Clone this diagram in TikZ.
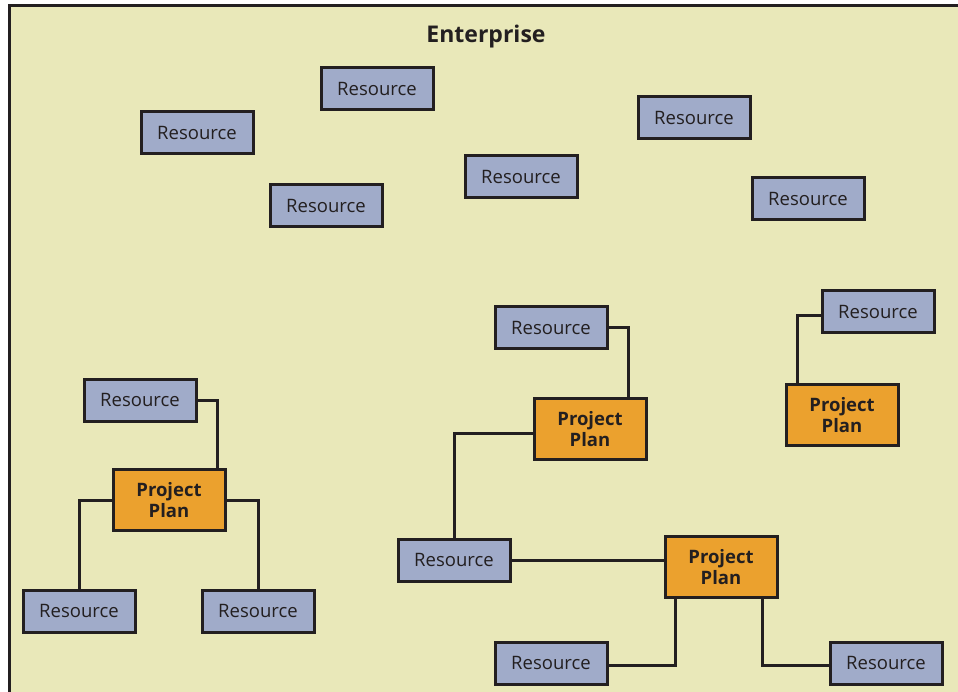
\documentclass[tikz,border=0pt]{standalone}
\usepackage{fontspec}
\setmainfont{Open Sans}
\begin{document}
\definecolor{bgcream}{RGB}{233,232,185}
\definecolor{resblue}{RGB}{160,171,201}
\definecolor{planorange}{RGB}{235,161,46}
\definecolor{inkdark}{RGB}{35,31,32}
\begin{tikzpicture}[x=1pt,y=-1pt,
  resource/.style={rectangle, draw=inkdark, line width=3pt, fill=resblue,
    minimum width=112pt, minimum height=42pt, inner sep=0pt,
    text=inkdark, font=\fontsize{18.5}{20}\selectfont},
  plan/.style={rectangle, draw=inkdark, line width=3pt, fill=planorange,
    minimum width=112pt, minimum height=61pt, inner sep=0pt, align=center,
    text=inkdark, font=\fontsize{18.5}{20.5}\selectfont\bfseries},
  link/.style={draw=inkdark, line width=3pt}]
\useasboundingbox (0,0) rectangle (958,692);
\clip (0,0) rectangle (958,692);
% enterprise frame
\draw[fill=bgcream, draw=inkdark, line width=2.8pt] (9.5,5.5) rectangle (980,720);
\node[text=inkdark, font=\fontsize{23}{25}\selectfont\bfseries] (title) at (486,37) {Enterprise};

% free resources
\node[resource] (t1) at (377,89) {Resource};
\node[resource] (t2) at (197,133) {Resource};
\node[resource] (t3) at (326,206) {Resource};
\node[resource] (t4) at (521,177) {Resource};
\node[resource] (t5) at (694,118) {Resource};
\node[resource] (t6) at (808,199) {Resource};

% left project
\node[resource] (lr) at (140,400) {Resource};
\node[plan] (lpp) at (169,500) {Project\\Plan};
\node[resource] (lr1) at (79,611) {Resource};
\node[resource] (lr2) at (258,611) {Resource};
\draw[link] (lr.east) -| ([xshift=-9pt]lpp.north east);
\draw[link] (lpp.west) -| (lr1.north);
\draw[link] (lpp.east) -| (lr2.north);

% middle project
\node[resource] (mr) at (551,328) {Resource};
\node[plan] (mpp) at (590,429) {Project\\Plan};
\node[resource] (mr2) at (454,560) {Resource};
\draw[link] (mr.east) -| ([xshift=-19pt]mpp.north east);
\draw[link] ([yshift=-4pt]mpp.west) -| (mr2.north);

% lower project
\node[plan] (bpp) at (721,567) {Project\\Plan};
\node[resource] (br1) at (551,663) {Resource};
\node[resource] (br2) at (886,663) {Resource};
\draw[link] (mr2.east) -- (mr2.east -| bpp.west);
\draw[link] ([xshift=12pt]bpp.south west) |- ([yshift=-2pt]br1.east);
\draw[link] ([xshift=-16pt]bpp.south east) |- ([yshift=-2pt]br2.west);

% right project
\node[resource] (rr) at (878,312) {Resource};
\node[plan] (rpp) at (842,415) {Project\\Plan};
\draw[link] ([yshift=-4pt]rr.west) -| ([xshift=13pt]rpp.north west);
\end{tikzpicture}
\end{document}
